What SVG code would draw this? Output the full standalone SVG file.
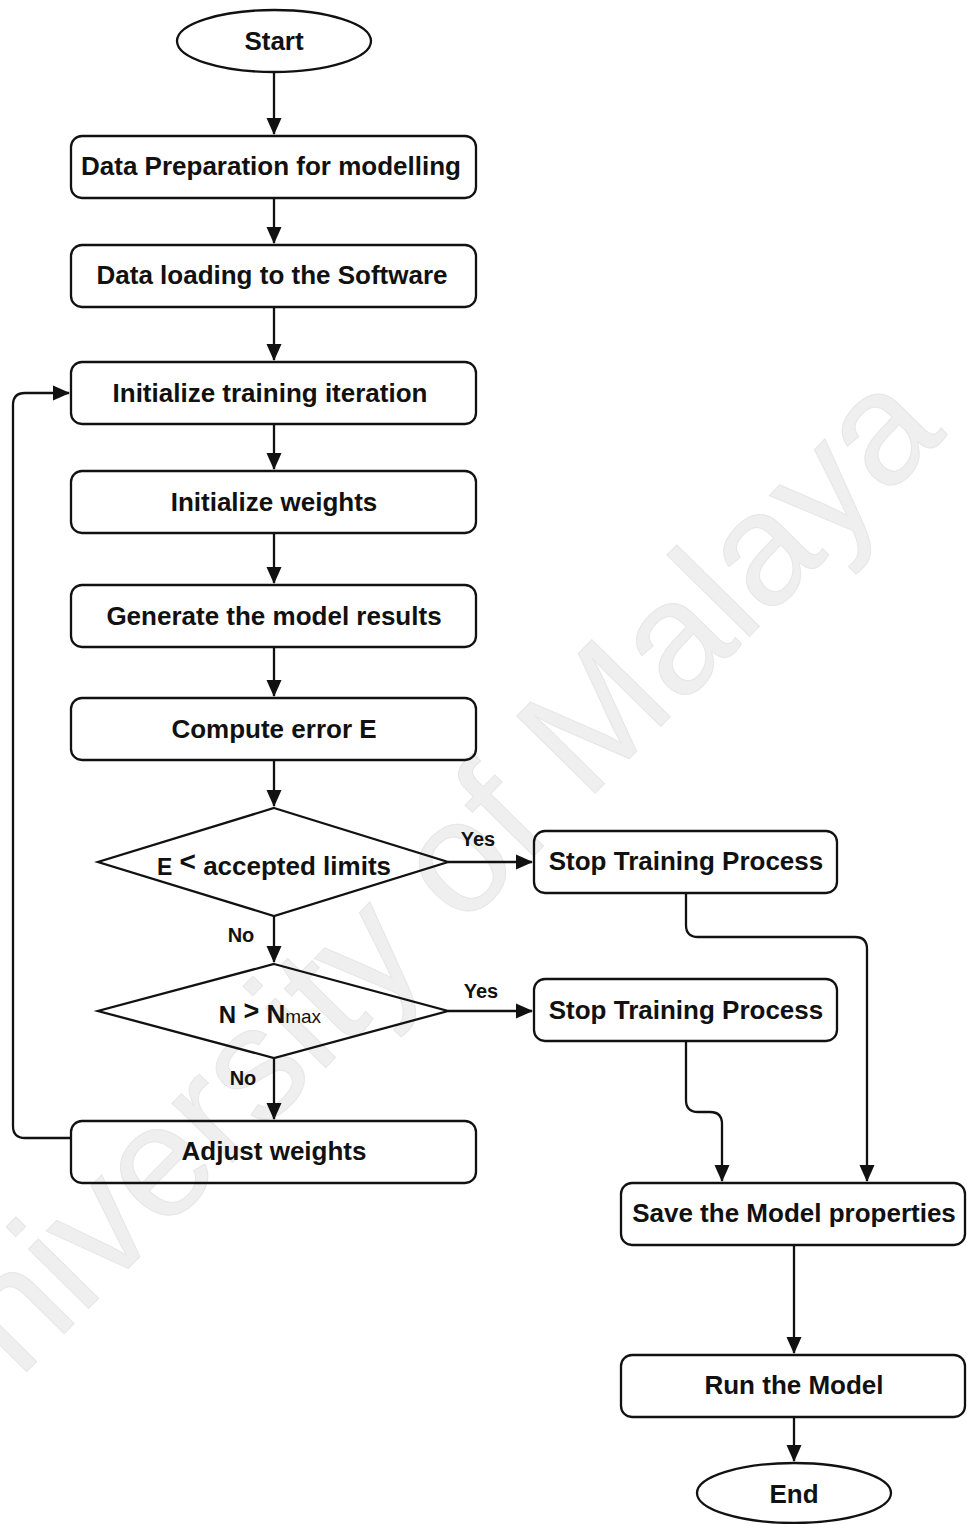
<svg xmlns="http://www.w3.org/2000/svg" width="967" height="1524" viewBox="0 0 967 1524">
<style>
.box{fill:none;stroke:#111;stroke-width:2.3}
.t{font-family:"Liberation Sans",Arial,sans-serif;font-weight:bold;font-size:26px;fill:#111;text-anchor:middle}
.lbl{font-family:"Liberation Sans",Arial,sans-serif;font-weight:bold;font-size:20px;fill:#111;text-anchor:middle}
.c{fill:none;stroke:#111;stroke-width:2.3}
.wm{font-family:"Liberation Sans",Arial,sans-serif;font-size:160px;fill:#efefef;stroke:#e6e6e6;stroke-width:1}
</style>
<defs>
<marker id="ah" markerUnits="userSpaceOnUse" markerWidth="17" markerHeight="17" viewBox="0 0 17 17" refX="16" refY="8.5" orient="auto">
<path d="M0,1 L17,8.5 L0,16 Z" fill="#111"/>
</marker>
</defs>
<rect width="967" height="1524" fill="#fff"/>
<text class="wm" transform="translate(-62,1462) rotate(-45.5)">University of Malaya</text>

<g id="connectors">
<path class="c" d="M274 72 V134" marker-end="url(#ah)"/>
<path class="c" d="M274 198 V243" marker-end="url(#ah)"/>
<path class="c" d="M274 307 V360" marker-end="url(#ah)"/>
<path class="c" d="M274 424 V469" marker-end="url(#ah)"/>
<path class="c" d="M274 533 V583" marker-end="url(#ah)"/>
<path class="c" d="M274 647 V696" marker-end="url(#ah)"/>
<path class="c" d="M274 760 V806" marker-end="url(#ah)"/>
<path class="c" d="M274 916 V962" marker-end="url(#ah)"/>
<path class="c" d="M274 1058 V1119" marker-end="url(#ah)"/>
<path class="c" d="M448 862 H532" marker-end="url(#ah)"/>
<path class="c" d="M448 1011 H532" marker-end="url(#ah)"/>
<path class="c" d="M71 1138 H25 Q13 1138 13 1126 V405 Q13 393 25 393 H69" marker-end="url(#ah)"/>
<path class="c" d="M686 893 V925 Q686 937 698 937 H855 Q867 937 867 949 V1181" marker-end="url(#ah)"/>
<path class="c" d="M686 1041 V1100 Q686 1112 698 1112 H710 Q722 1112 722 1124 V1181" marker-end="url(#ah)"/>
<path class="c" d="M794 1245 V1353" marker-end="url(#ah)"/>
<path class="c" d="M794 1417 V1461" marker-end="url(#ah)"/>
<text class="lbl" x="478" y="846">Yes</text>
<text class="lbl" x="481" y="998">Yes</text>
<text class="lbl" x="241" y="942">No</text>
<text class="lbl" x="243" y="1085">No</text>
</g>

<g id="start"><ellipse class="box" cx="274" cy="41" rx="97" ry="31"/><text class="t" x="274" y="50">Start</text></g>
<g id="prep"><rect class="box" x="71" y="136" width="405" height="62" rx="11"/><text class="t" x="271" y="175">Data Preparation for modelling</text></g>
<g id="load"><rect class="box" x="71" y="245" width="405" height="62" rx="11"/><text class="t" x="272" y="284">Data loading to the Software</text></g>
<g id="inititer"><rect class="box" x="71" y="362" width="405" height="62" rx="11"/><text class="t" x="270" y="402">Initialize training iteration</text></g>
<g id="initw"><rect class="box" x="71" y="471" width="405" height="62" rx="11"/><text class="t" x="274" y="511">Initialize weights</text></g>
<g id="gen"><rect class="box" x="71" y="585" width="405" height="62" rx="11"/><text class="t" x="274" y="625">Generate the model results</text></g>
<g id="err"><rect class="box" x="71" y="698" width="405" height="62" rx="11"/><text class="t" x="274" y="738">Compute error E</text></g>
<g id="dec1"><polygon class="box" points="274,808 448,862 274,916 98,862"/>
<text class="t" x="274" y="875"><tspan font-size="23">E</tspan> <tspan font-size="28" dy="-4">&lt;</tspan><tspan dy="4"> accepted limits</tspan></text></g>
<g id="dec2"><polygon class="box" points="274,964 448,1011 274,1058 98,1011"/>
<text class="t" x="270" y="1023"><tspan font-size="24">N</tspan> <tspan font-size="27" dy="-3">&gt;</tspan><tspan dy="3"> N</tspan><tspan font-size="19" font-weight="normal">max</tspan></text></g>
<g id="adjust"><rect class="box" x="71" y="1121" width="405" height="62" rx="11"/><text class="t" x="274" y="1160">Adjust weights</text></g>
<g id="stop1"><rect class="box" x="534" y="831" width="303" height="62" rx="11"/><text class="t" x="686" y="870">Stop Training Process</text></g>
<g id="stop2"><rect class="box" x="534" y="979" width="303" height="62" rx="11"/><text class="t" x="686" y="1019">Stop Training Process</text></g>
<g id="save"><rect class="box" x="621" y="1183" width="344" height="62" rx="11"/><text class="t" x="794" y="1222">Save the Model properties</text></g>
<g id="run"><rect class="box" x="621" y="1355" width="344" height="62" rx="11"/><text class="t" x="794" y="1394">Run the Model</text></g>
<g id="end"><ellipse class="box" cx="794" cy="1493" rx="97" ry="30"/><text class="t" x="794" y="1503">End</text></g>
</svg>
